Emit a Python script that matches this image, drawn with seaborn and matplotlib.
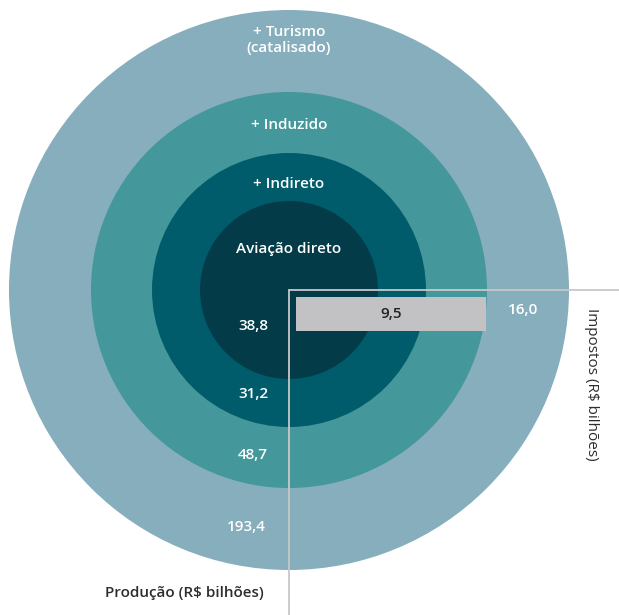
import matplotlib
matplotlib.use("Agg")
import matplotlib.pyplot as plt
from matplotlib.patches import Circle
import seaborn as sns

# Production by impact layer (R$ billions), innermost first
layers = ["Aviação direto", "+ Indireto", "+ Induzido", "+ Turismo\n(catalisado)"]
production = [38.8, 31.2, 48.7, 193.4]
# Taxes (R$ billions): direct+indirect+induced, and with catalysed tourism
tax_core = 9.5
tax_total = 16.0

sns.set_theme(style="white")
plt.rcParams["font.family"] = ["Open Sans", "DejaVu Sans"]

W, H = 619, 615
fig = plt.figure(figsize=(W / 100, H / 100), dpi=100)
ax = fig.add_axes([0, 0, 1, 1])
ax.set_xlim(0, W)
ax.set_ylim(H, 0)
ax.axis("off")

cx, cy = 289, 290
ring_radius = [89, 137, 198, 280]
ring_color = ["#033c48", "#005c6b", "#44979a", "#86aebd"]
name_y = [249, 184, 125, 40]
value_pos = [(253, 326), (253, 394), (253, 455), (246, 527)]
fs = 11

def fmt(v):
    return f"{v:.1f}".replace(".", ",")

for r, c in zip(ring_radius[::-1], ring_color[::-1]):
    ax.add_patch(Circle((cx, cy), r, facecolor=c, edgecolor="none", zorder=1))

for name, ny in zip(layers, name_y):
    ax.text(cx, ny, name, color="white", ha="center", va="center",
            fontsize=fs, fontweight="semibold", linespacing=1.15, zorder=3)

for v, (vx, vy) in zip(production, value_pos):
    ax.text(vx, vy, fmt(v), color="white", ha="center", va="center",
            fontsize=fs, fontweight="semibold", zorder=3)

# Quadrant guide lines
line_c = "#c8c8c8"
ax.plot([cx, W], [cy, cy], color=line_c, lw=1.3, zorder=2)
ax.plot([cx, cx], [cy, H], color=line_c, lw=1.3, zorder=2)

# Tax bar
bax = fig.add_axes([296 / W, (H - 331) / H, 190 / W, 34 / H])
sns.barplot(x=[tax_core], y=["Impostos"], color="#c2c2c4", saturation=1,
            width=1, ax=bax, edgecolor="none", linewidth=0)
bax.set_xlim(0, tax_core)
bax.set_ylim(0.5, -0.5)
bax.axis("off")
bax.text(tax_core / 2, 0, fmt(tax_core), color="#222222",
         ha="center", va="center", fontsize=fs, fontweight="semibold", zorder=10)

ax.text(523, 310, fmt(tax_total), color="white",
        ha="center", va="center", fontsize=fs, fontweight="semibold", zorder=3)

ax.text(184, 593, "Produção (R$ bilhões)", color="#2d2d2d", ha="center",
        va="center", fontsize=fs, fontweight="semibold")
ax.text(591, 384, "Impostos (R$ bilhões)", color="#2d2d2d", ha="center",
        va="center", fontsize=fs, rotation=-90)

fig.savefig("out.png", dpi=100)
